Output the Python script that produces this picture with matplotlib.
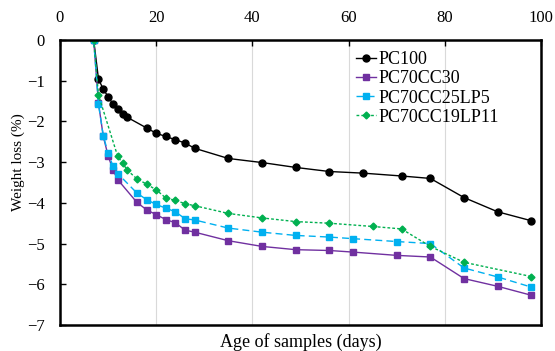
import matplotlib
matplotlib.use("Agg")
import matplotlib.pyplot as plt

plt.rcParams['font.family'] = ['Liberation Serif', 'DejaVu Serif']

# Age of samples (days) and weight loss (%)
pc100_x = [7, 8, 9, 10, 11, 12, 13, 14, 18, 20, 22, 24, 26, 28, 35, 42, 49, 56, 63, 71, 77, 84, 91, 98]
pc100_y = [0, -0.96, -1.21, -1.39, -1.57, -1.70, -1.82, -1.90, -2.16, -2.29, -2.37, -2.45, -2.53, -2.66,
           -2.91, -3.01, -3.13, -3.23, -3.27, -3.34, -3.40, -3.87, -4.22, -4.44]

cc30_x = [7, 8, 9, 10, 11, 12, 16, 18, 20, 22, 24, 26, 28, 35, 42, 49, 56, 61, 70, 77, 84, 91, 98]
cc30_y = [0, -1.55, -2.37, -2.84, -3.19, -3.43, -3.99, -4.17, -4.29, -4.41, -4.49, -4.67, -4.72,
          -4.93, -5.07, -5.15, -5.17, -5.21, -5.29, -5.33, -5.86, -6.05, -6.27]

lp5_x = [7, 8, 9, 10, 11, 12, 16, 18, 20, 22, 24, 26, 28, 35, 42, 49, 56, 61, 70, 77, 84, 91, 98]
lp5_y = [0, -1.58, -2.35, -2.78, -3.09, -3.28, -3.76, -3.92, -4.04, -4.13, -4.22, -4.39, -4.42,
         -4.62, -4.72, -4.80, -4.84, -4.88, -4.95, -5.00, -5.60, -5.82, -6.07]

lp11_x = [7, 8, 12, 13, 14, 16, 18, 20, 22, 24, 26, 28, 35, 42, 49, 56, 65, 71, 77, 84, 98]
lp11_y = [0, -1.35, -2.86, -3.02, -3.20, -3.41, -3.54, -3.68, -3.88, -3.94, -4.02, -4.07,
          -4.26, -4.37, -4.46, -4.50, -4.58, -4.64, -5.07, -5.46, -5.81]

fig = plt.figure(figsize=(5.55, 3.51), dpi=100)
ax = fig.add_axes([60 / 555, 1 - 325 / 351, 481 / 555, 285 / 351])

ax.plot(pc100_x, pc100_y, color='black', marker='o', markersize=5, lw=1, label='PC100')
ax.plot(cc30_x, cc30_y, color='#7030A0', marker='s', markersize=5, lw=1, label='PC70CC30')
ax.plot(lp5_x, lp5_y, color='#00B0F0', marker='s', markersize=5, lw=1, ls=(0, (5, 3)), label='PC70CC25LP5')
ax.plot(lp11_x, lp11_y, color='#00B050', marker='D', markersize=3.5, lw=1, ls=(0, (2, 1.5)), label='PC70CC19LP11')

ax.set_xlim(0, 100)
ax.set_ylim(-7, 0)
ax.set_xticks(range(0, 101, 20))
ax.set_yticks(range(-7, 1))
ax.xaxis.tick_top()
ax.tick_params(axis='both', direction='in', labelsize=12, length=4, width=1)
ax.tick_params(axis='x', pad=10)
ax.tick_params(axis='y', pad=11)
ax.grid(axis='x', color='#d9d9d9', lw=0.8)
for s in ax.spines.values():
    s.set_linewidth(1.8)

ax.set_xlabel('Age of samples (days)', fontsize=13, labelpad=6)
ax.set_ylabel('Weight loss (%)', fontsize=11)
ax.yaxis.set_label_coords(-0.073, 0.57)

ax.legend(loc='upper left', bbox_to_anchor=(0.59, 1.005), frameon=False, fontsize=13,
          handlelength=1.1, handletextpad=0.15, labelspacing=0.12, borderaxespad=0.3)

fig.savefig('out.png', dpi=100)
